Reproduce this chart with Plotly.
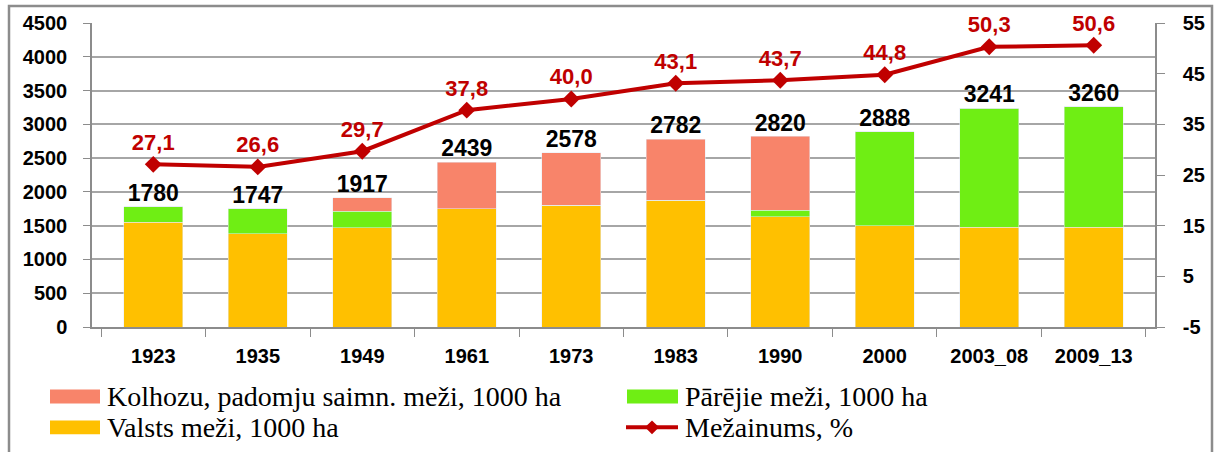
import plotly.graph_objects as go

# ---- data ----
categories = ["1923", "1935", "1949", "1961", "1973", "1983", "1990", "2000", "2003_08", "2009_13"]
valsts = [1550, 1380, 1470, 1750, 1805, 1880, 1635, 1500, 1480, 1480]
parejie = [230, 367, 240, 0, 0, 0, 90, 1388, 1761, 1780]
kolhozu = [0, 0, 207, 689, 773, 902, 1095, 0, 0, 0]
totals = [1780, 1747, 1917, 2439, 2578, 2782, 2820, 2888, 3241, 3260]
mezainums = [27.1, 26.6, 29.7, 37.8, 40.0, 43.1, 43.7, 44.8, 50.3, 50.6]
right_ticks = [-5, 5, 15, 25, 35, 45, 55]

names = {
    "kolhozu": "Kolhozu, padomju saimn. meži, 1000 ha",
    "parejie": "Pārējie meži, 1000 ha",
    "valsts": "Valsts meži, 1000 ha",
    "mez": "Mežainums, %",
}

C_YEL = "#FFC000"
C_GRN = "#6FEE14"
C_SAL = "#F8846A"
C_RED = "#C00000"
SANS = "Liberation Sans, Arial, sans-serif"
SERIF = "Liberation Serif, Times New Roman, serif"

W, H = 1217, 452
L, R, T, B = 92, 1155, 21, 327


def px(x):
    return (x - L) / (R - L)


def py(y):
    return (B - y) / (B - T)


fig = go.Figure()
fig.add_trace(go.Bar(x=categories, y=valsts, name=names["valsts"], marker_color=C_YEL))
fig.add_trace(go.Bar(x=categories, y=parejie, name=names["parejie"], marker_color=C_GRN))
fig.add_trace(go.Bar(x=categories, y=kolhozu, name=names["kolhozu"], marker_color=C_SAL))
fig.add_trace(go.Scatter(
    x=categories, y=totals, mode="text", text=[str(v) for v in totals],
    textposition="top center", showlegend=False, hoverinfo="skip", cliponaxis=False,
    textfont=dict(family=SANS, size=23, color="#000000", weight="bold"),
))
fig.add_trace(go.Scatter(
    x=categories, y=mezainums, yaxis="y2", mode="lines+markers+text", name=names["mez"],
    line=dict(color=C_RED, width=4), marker=dict(symbol="diamond", size=13, color=C_RED),
    text=[f"{v:.1f}".replace(".", ",") for v in mezainums], textposition="top center",
    cliponaxis=False,
    textfont=dict(family=SANS, size=22, color=C_RED, weight="bold"),
))

tickfont = dict(family=SANS, size=20, color="#000000", weight="bold")
fig.update_layout(
    width=W, height=H,
    margin=dict(l=L, r=W - R, t=T, b=H - B, pad=0),
    paper_bgcolor="white", plot_bgcolor="white",
    barmode="stack", bargap=0.435, showlegend=False,
    xaxis=dict(
        type="category", showgrid=False, showline=True, linecolor="#8C8C8C", linewidth=1.5,
        ticks="outside", ticklen=8, tickcolor="#8C8C8C", tickson="boundaries",
        tickfont=tickfont, ticklabelstandoff=10, tickangle=0,
    ),
    yaxis=dict(
        range=[0, 4500], dtick=500, tick0=0, showgrid=True, gridcolor="#A6A6A6", gridwidth=1.5,
        showline=True, linecolor="#8C8C8C", linewidth=1.5, ticks="outside", ticklen=7,
        tickcolor="#8C8C8C", tickfont=tickfont, ticklabelstandoff=12, zeroline=False,
    ),
    yaxis2=dict(
        overlaying="y", side="right", range=[-5, 55], tickmode="array",
        tickvals=right_ticks, ticktext=[str(v) for v in right_ticks], showgrid=False,
        showline=True, linecolor="#8C8C8C", linewidth=1.5, ticks="outside", ticklen=8,
        tickcolor="#8C8C8C", tickfont=tickfont, ticklabelstandoff=14, zeroline=False,
    ),
)

# outer frame
fig.add_shape(type="rect", xref="paper", yref="paper",
              x0=px(9), x1=px(1212), y0=py(4), y1=py(470),
              line=dict(color="#8C8C8C", width=2.5), fillcolor="rgba(0,0,0,0)", layer="below")

# manual legend
legend_items = [
    ("kolhozu", C_SAL, 50, 100, 397, 105),
    ("parejie", C_GRN, 627, 678, 397, 683),
    ("valsts", C_YEL, 50, 100, 428, 105),
]
for key, col, x0, x1, yc, tx in legend_items:
    fig.add_shape(type="rect", xref="paper", yref="paper",
                  x0=px(x0), x1=px(x1), y0=py(yc + 7), y1=py(yc - 7),
                  line=dict(width=0), fillcolor=col)
    fig.add_annotation(xref="paper", yref="paper", x=px(tx), y=py(yc), text=names[key],
                       showarrow=False, xanchor="left", yanchor="middle",
                       font=dict(family=SERIF, size=28, color="#000000"))
fig.add_shape(type="line", xref="paper", yref="paper", x0=px(626), x1=px(678),
              y0=py(428), y1=py(428), line=dict(color=C_RED, width=4))
fig.add_shape(type="path", xref="paper", yref="paper",
              path=f"M {px(645)},{py(428)} L {px(652)},{py(421)} L {px(659)},{py(428)} L {px(652)},{py(435)} Z",
              line=dict(width=0), fillcolor=C_RED)
fig.add_annotation(xref="paper", yref="paper", x=px(683), y=py(428), text=names["mez"],
                   showarrow=False, xanchor="left", yanchor="middle",
                   font=dict(family=SERIF, size=28, color="#000000"))

fig.write_html("out.html", config={"displayModeBar": False},
               post_script="document.body.style.margin='0';")
